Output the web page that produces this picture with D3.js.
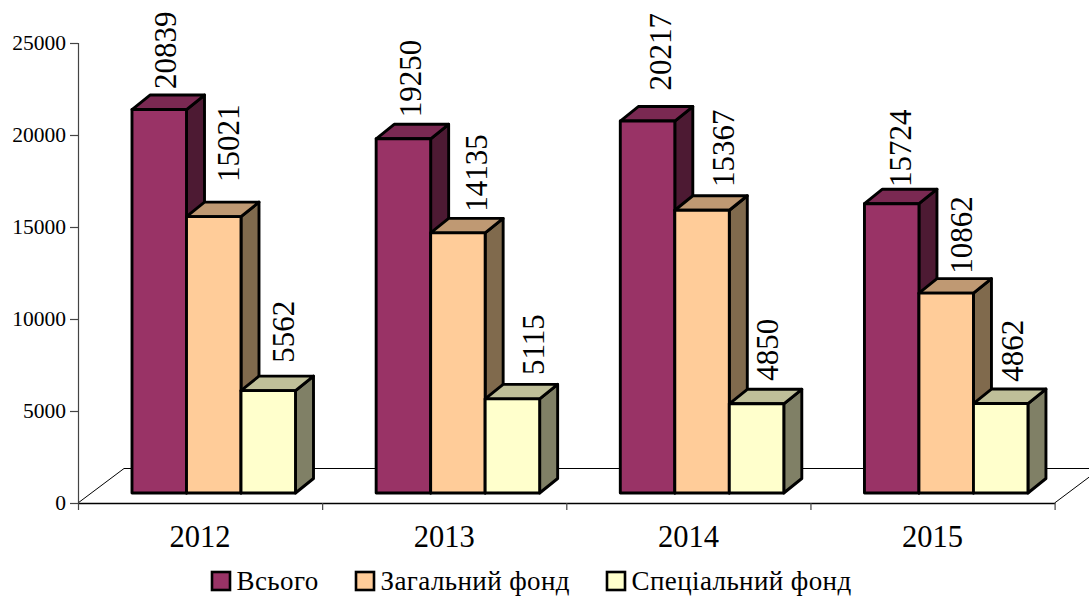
<!DOCTYPE html>
<html>
<head>
<meta charset="utf-8">
<script src="https://cdn.jsdelivr.net/npm/d3@7"></script>
<style>
  html, body { margin: 0; padding: 0; background: #fff; overflow: hidden; }
  text { font-family: "Liberation Serif", serif; fill: #000; }
</style>
</head>
<body>
<div id="chart"></div>
<script>
const years = ["2012", "2013", "2014", "2015"];
const seriesNames = ["Всього", "Загальний фонд", "Спеціальний фонд"];
const total = [20839, 19250, 20217, 15724];
const generalFund = [15021, 14135, 15367, 10862];
const specialFund = [5562, 5115, 4850, 4862];
const yTicks = [0, 5000, 10000, 15000, 20000, 25000];

const seriesValues = [total, generalFund, specialFund];
const faceColors = ["#993366", "#ffcc99", "#ffffcc"];
const topColors = ["#7a2952", "#bf9973", "#bfbf99"];
const sideColors = ["#4d1a33", "#806a4d", "#808066"];

// hand placed data labels in the original: gap above the bar, x from bar left
const labelGap = [[6, 20, 13.4], [7, 6.6, 9.4], [16, 8.7, 8.6], [2.3, 5, 7.4]];
const labelDx = [[34, 42.5, 42.3], [35, 46, 48.3], [40.5, 49, 38], [36.4, 42.7, 39]];

const width = 1089, height = 596;
const svg = d3.select("#chart").append("svg")
  .attr("width", width)
  .attr("height", height)
  .style("display", "block");

const y = d3.scaleLinear().domain([0, 25000]).range([503, 43]);
const x = d3.scaleBand().domain(years).range([78, 1054.6]);
const xEdges = d3.scaleLinear().domain([0, 4]).range([78, 1054.6]);
const barW = 54.5, groupPad = 54;
const depthX = 18, depthY = 14.5;    // bar depth
const floorX = 46, floorY = 34.5;    // floor depth
const barLift = 10;                  // bars stand this far behind the front floor edge

// floor
const floor = svg.append("g").attr("fill", "none").attr("stroke", "#000").attr("stroke-width", 1);
floor.append("path")
  .attr("d", `M78,${y(0)}l${floorX},${-floorY}H${1054.6 + floorX}L1054.6,${y(0)}`);

// y axis
const yAxis = svg.append("g")
  .attr("transform", "translate(78,0)")
  .call(d3.axisLeft(y).tickValues(yTicks).tickSize(8).tickPadding(4).tickFormat(d3.format("d")));
yAxis.selectAll("path,line").attr("stroke", "#444").attr("stroke-width", 1.2);
yAxis.selectAll("text").style("font-family", "Liberation Serif").style("font-size", "21.5px");

// x axis, ticks sit between the groups
const xTickAxis = svg.append("g")
  .attr("transform", `translate(0,${y(0)})`)
  .call(d3.axisBottom(xEdges).ticks(4).tickSize(7).tickSizeOuter(0).tickFormat(""));
xTickAxis.select("path").attr("stroke", "#000").attr("stroke-width", 1.5);
xTickAxis.selectAll("line").attr("stroke", "#444").attr("stroke-width", 1.2);

const xAxis = svg.append("g")
  .attr("transform", `translate(0,${y(0)})`)
  .call(d3.axisBottom(x).tickSize(0).tickPadding(22));
xAxis.select("path").remove();
xAxis.selectAll("text").style("font-family", "Liberation Serif").style("font-size", "30.5px");

// bars, left to right so that each one covers the side of the previous
const bars = [];
years.forEach((yr, i) => {
  seriesValues.forEach((vals, s) => {
    bars.push({ year: yr, i, s, value: vals[i] });
  });
});

const barX = d => x(d.year) + groupPad + d.s * barW;
const barTop = d => y(d.value) - barLift;
const barBase = y(0) - barLift;

const bar = svg.selectAll(".bar")
  .data(bars)
  .enter()
  .append("g")
  .attr("class", "bar")
  .attr("stroke", "#000")
  .attr("stroke-width", 2.9)
  .attr("stroke-linejoin", "round");

bar.append("path")
  .attr("fill", d => sideColors[d.s])
  .attr("d", d => `M${barX(d) + barW},${barTop(d)}l${depthX},${-depthY}V${barBase - depthY}l${-depthX},${depthY}Z`);
bar.append("path")
  .attr("fill", d => topColors[d.s])
  .attr("d", d => `M${barX(d)},${barTop(d)}l${depthX},${-depthY}h${barW}l${-depthX},${depthY}Z`);
bar.append("rect")
  .attr("fill", d => faceColors[d.s])
  .attr("x", barX)
  .attr("y", barTop)
  .attr("width", barW)
  .attr("height", d => barBase - barTop(d));

// value labels
svg.selectAll(".value")
  .data(bars)
  .enter()
  .append("text")
  .attr("class", "value")
  .attr("font-size", 31)
  .attr("dy", "0.33em")
  .attr("transform", d => `translate(${barX(d) + labelDx[d.i][d.s]},${barTop(d) - depthY - labelGap[d.i][d.s]}) rotate(-90)`)
  .text(d => d.value);

// legend
const legendSquareX = [212, 356, 607];
const legend = svg.selectAll(".legend")
  .data(seriesNames)
  .enter()
  .append("g")
  .attr("class", "legend")
  .attr("transform", (d, i) => `translate(${legendSquareX[i]},572)`);
legend.append("rect")
  .attr("width", 18)
  .attr("height", 18)
  .attr("fill", (d, i) => faceColors[i])
  .attr("stroke", "#000")
  .attr("stroke-width", 2.6);
legend.append("text")
  .attr("x", 24.5)
  .attr("y", 18)
  .attr("font-size", 27)
  .attr("letter-spacing", 0.4)
  .text(d => d);
</script>
</body>
</html>
